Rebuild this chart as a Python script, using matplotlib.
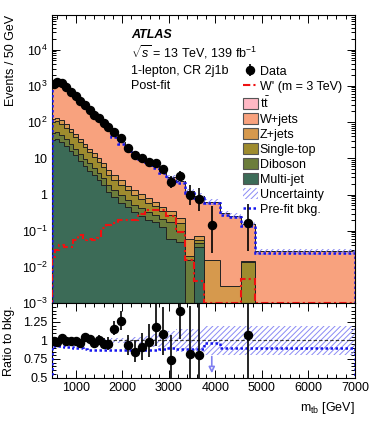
import numpy as np
import matplotlib
matplotlib.use("Agg")
import matplotlib.pyplot as plt
from matplotlib.patches import Patch
from matplotlib.lines import Line2D
from matplotlib.ticker import FixedLocator, MultipleLocator, LogLocator, NullFormatter, FuncFormatter

plt.rcParams['font.family'] = ['Liberation Sans', 'DejaVu Sans']
plt.rcParams['mathtext.fontset'] = 'custom'
plt.rcParams['mathtext.rm'] = 'Liberation Sans'
plt.rcParams['mathtext.it'] = 'Liberation Sans:italic'
plt.rcParams['mathtext.bf'] = 'Liberation Sans:bold'
plt.rcParams['hatch.linewidth'] = 0.7

# ---- binning (GeV) and per-bin contents (events / 50 GeV) ----
edges = np.array([500, 550, 650, 750, 850, 950, 1050, 1150, 1250, 1350, 1450, 1550,
                  1650, 1750, 1900, 2050, 2200, 2350, 2500, 2650, 2800, 2950, 3150,
                  3350, 3550, 3750, 4100, 4300, 4550, 4850, 7000])

data_counts = [1150, 2550, 2350, 1840, 1386, 1040, 740, 596, 438, 322, 258, 192, 147,
               160, 106, 56, 37, 30, 24, 22, 15, 9, 13, 4, 3, 1, 0, 0, 1, 0]

ttbar = [4, 4, 3.5, 3, 2, 1.5, 1, 0.8, 0.6, 0.4, 0.3, 0.25, 0.2, 0.12, 0.08, 0.05,
         0.04, 0.03, 0.02, 0.015, 0.01, 0.008, 0.005, 0.003, 0.002, 0.001, 0, 0, 0, 0]
wjets = [1029, 1170, 1019, 833, 635, 472, 350, 260, 196, 154, 118, 93, 72, 42.5, 25.5,
         18.2, 13.2, 10.0, 7.4, 5.6, 4.15, 2.7, 2.1, 1.16, 0.85, 0.60, 0.30, 0.26, 0.14, 0.027]
zjets = [23, 25, 22, 17, 13, 9.5, 7, 5, 3.7, 2.7, 2.0, 1.5, 1.3, 0.9, 0.65, 0.45, 0.33,
         0.25, 0.19, 0.14, 0.1, 0.08, 0.06, 0.04, 0.02, 0.016, 0.003, 0.003, 0.001, 0]
singletop = [48, 52, 45, 36, 27, 20, 14.5, 10.5, 7.7, 5.6, 4.0, 2.9, 1.65, 1.2, 0.85, 0.6,
             0.45, 0.35, 0.27, 0.2, 0.14, 0.1, 0.06, 0.004, 0.008, 0, 0, 0, 0.014, 0]
diboson = [17, 18, 15, 12, 9, 6.5, 4.8, 3.5, 2.6, 1.9, 1.4, 1.0, 0.66, 0.48, 0.36, 0.27,
           0.2, 0.16, 0.13, 0.1, 0.08, 0.12, 0.05, 0.016, 0.01, 0, 0, 0, 0, 0]
multijet = [33, 35, 29, 22, 16, 12, 8.5, 6.2, 4.6, 3.4, 2.5, 1.8, 1.2, 0.85, 0.6, 0.45,
            0.33, 0.26, 0.2, 0.17, 0.13, 0.06, 0.05, 0.0, 0.036, 0, 0, 0, 0, 0]

wprime = [0.019, 0.030, 0.041, 0.036, 0.036, 0.055, 0.077, 0.056, 0.058, 0.056, 0.062, 0.118,
          0.146, 0.16, 0.2, 0.2, 0.2, 0.3, 0.38, 0.38, 0.38, 0.25, 0.095, 0.016, 0.004,
          0, 0, 0, 0.0048, 0]

# pre-fit / post-fit background, and relative uncertainty of the post-fit background
prefit_ratio = [0.92, 0.92, 0.92, 0.91, 0.91, 0.90, 0.90, 0.88, 0.87, 0.87, 0.865, 0.865,
                0.865, 0.865, 0.865, 0.865, 0.865, 0.865, 0.865, 0.87, 0.88, 0.90, 0.89,
                0.89, 0.89, 0.965, 0.90, 0.90, 0.90, 0.90]
rel_unc = [0.02] * 13 + [0.03, 0.03, 0.035, 0.04, 0.05, 0.06, 0.09, 0.10, 0.12, 0.15,
                         0.16, 0.16, 0.19, 0.19, 0.19, 0.19, 0.19]

stack = [("Multi-jet", multijet, "#3c6b57"),
         ("Diboson", diboson, "#6c7d3b"),
         ("Single-top", singletop, "#9e8b2e"),
         ("Z+jets", zjets, "#d6994d"),
         ("W+jets", wjets, "#f8a27e"),
         (r"$\mathrm{t\bar{t}}$", ttbar, "#ffb8c4")]

# ===========================================

centers = 0.5 * (edges[:-1] + edges[1:])
units = np.diff(edges) / 50.0
counts = np.array(data_counts, dtype=float)
dens = counts / units

# Gehrels approximation for Poisson intervals
err_hi = np.sqrt(counts + 0.75) + 1.0
with np.errstate(divide='ignore', invalid='ignore'):
    low = counts * (1 - 1 / (9 * counts) - 1 / (3 * np.sqrt(counts))) ** 3
err_lo = np.where(counts > 0, counts - low, 0)
err_hi = err_hi / units
err_lo = err_lo / units

total = np.zeros(len(centers))
for _, vals, _ in stack:
    total = total + np.array(vals)
prefit = total * np.array(prefit_ratio)
unc = np.array(rel_unc)

floor = 1e-5

fig = plt.figure(figsize=(3.74, 4.21), dpi=100)
ax1 = fig.add_axes([0.140, 0.2796, 0.809, 0.6848])
ax2 = fig.add_axes([0.140, 0.1033, 0.809, 0.1763], sharex=ax1)

### Stack
base = np.zeros(len(centers))
handles = {}
for name, vals, col in stack:
    top = base + np.array(vals)
    ax1.stairs(np.maximum(top, floor), edges, baseline=np.maximum(base, floor), fill=True,
               facecolor=col, edgecolor='none', zorder=2)
    ax1.stairs(np.maximum(top, floor), edges, color='#222222', lw=0.7, zorder=3)
    handles[name] = Patch(facecolor=col, edgecolor='#555555', lw=0.8)
    base = top

# uncertainty band
band_lo = np.append(total * (1 - unc), total[-1] * (1 - unc[-1]))
band_hi = np.append(total * (1 + unc), total[-1] * (1 + unc[-1]))
ax1.fill_between(edges, band_lo, band_hi, step='post', facecolor='none',
                 edgecolor='#8a8af5', hatch='//////', lw=0, zorder=4)

# pre-fit and signal
ax1.stairs(prefit, edges, color='#1515ee', lw=1.8, ls=(0, (1, 1)), zorder=5)
ax1.stairs(np.maximum(wprime, 1.0e-3), edges, color='#ee1111', lw=1.5,
           ls=(0, (3.5, 1.5, 1, 1.5)), zorder=5)

# data
m = counts > 0
eb = ax1.errorbar(centers[m], dens[m], yerr=[err_lo[m], err_hi[m]], fmt='o', color='black',
                  ms=5.8, lw=1.2, capsize=0, zorder=6)

ax1.set_yscale('log')
ax1.set_ylim(1e-3, 9e4)
ax1.set_xlim(500, 7000)

ax1.set_ylabel("Events / 50 GeV", fontsize=9, loc='top')
ax1.yaxis.set_label_coords(-0.118, 1.0)

def logfmt(v, pos):
    e = int(round(np.log10(v)))
    if e == 0:
        return "1"
    if e == 1:
        return "10"
    return r"$10^{%d}$" % e

ax1.yaxis.set_major_locator(LogLocator(base=10, numticks=20))
ax1.yaxis.set_minor_locator(LogLocator(base=10, subs=np.arange(2, 10), numticks=20))
ax1.yaxis.set_major_formatter(FuncFormatter(logfmt))
ax1.yaxis.set_minor_formatter(NullFormatter())

# text
ax1.text(0.26, 0.931, "ATLAS", transform=ax1.transAxes, fontsize=9, fontweight='bold',
         style='italic', va='center')
ax1.text(0.26, 0.872, r"$\sqrt{s}$ = 13 TeV, 139 fb$^{-1}$", transform=ax1.transAxes,
         fontsize=9, va='center')
ax1.text(0.26, 0.807, "1-lepton, CR 2j1b", transform=ax1.transAxes, fontsize=9, va='center')
ax1.text(0.26, 0.754, "Post-fit", transform=ax1.transAxes, fontsize=9, va='center')

leg_h = [eb, Line2D([], [], color='#ee1111', lw=1.5, ls=(0, (3.5, 1.5, 1, 1.5))),
         handles[r"$\mathrm{t\bar{t}}$"], handles["W+jets"], handles["Z+jets"],
         handles["Single-top"], handles["Diboson"], handles["Multi-jet"],
         Patch(facecolor='none', edgecolor='#8a8af5', hatch='//////', lw=0),
         Line2D([], [], color='#1515ee', lw=1.8, ls=(0, (1, 1)))]
leg_l = ["Data", "W' (m = 3 TeV)", r"$\mathrm{t\bar{t}}$", "W+jets", "Z+jets", "Single-top",
         "Diboson", "Multi-jet", "Uncertainty", "Pre-fit bkg."]
ax1.legend(leg_h, leg_l, loc='upper left', bbox_to_anchor=(0.63, 0.826), frameon=False,
           fontsize=9, handlelength=1.2, handleheight=1.0, handletextpad=0.15,
           labelspacing=0.17, borderpad=0, borderaxespad=0)

### Ratio
ratio = np.where(total > 0, dens / np.maximum(total, floor), 0)
band_r_lo = np.append(1 - unc, 1 - unc[-1])
band_r_hi = np.append(1 + unc, 1 + unc[-1])
ax2.fill_between(edges, band_r_lo, band_r_hi, step='post', facecolor='none',
                 edgecolor='#8a8af5', hatch='//////', lw=0, zorder=2)
ax2.axhline(1.0, color='#333333', lw=0.8, ls=(0, (3, 2)), zorder=3)
ax2.stairs(np.array(prefit_ratio), edges, color='#1515ee', lw=1.8, ls=(0, (1, 1)), zorder=4)

inr = m & (ratio >= 0.5)
ax2.errorbar(centers[inr], ratio[inr], yerr=[err_lo[inr] / total[inr], err_hi[inr] / total[inr]],
             fmt='o', color='black', ms=5.8, lw=1.2, capsize=0, zorder=6)
low_pts = m & (ratio < 0.5)
for xc in centers[low_pts]:
    ax2.annotate("", xy=(xc, 0.52), xytext=(xc, 0.82),
                 arrowprops=dict(arrowstyle='-|>', color='#8080f0', lw=1.2, fc='white',
                                 mutation_scale=9))

ax2.set_ylim(0.5, 1.5)
ax2.set_xlim(500, 7000)
ax2.yaxis.set_major_locator(FixedLocator([0.5, 0.75, 1.0, 1.25]))
ax2.yaxis.set_minor_locator(MultipleLocator(0.05))
ax2.yaxis.set_major_formatter(FuncFormatter(lambda v, p: "%g" % v))
ax2.set_ylabel("Ratio to bkg.", fontsize=9)
ax2.yaxis.set_label_coords(-0.124, 0.5)
ax2.set_xlabel(r"m$_{\rm tb}$ [GeV]", fontsize=9, loc='right')

ax2.xaxis.set_major_locator(MultipleLocator(1000))
ax2.xaxis.set_minor_locator(MultipleLocator(200))
plt.setp(ax1.get_xticklabels(), visible=False)

for ax in (ax1, ax2):
    ax.tick_params(which='both', direction='in', top=True, right=True, labelsize=9,
                   width=0.7)
    ax.tick_params(which='major', length=5.5)
    ax.tick_params(which='minor', length=3)
    for s in ax.spines.values():
        s.set_linewidth(0.8)

plt.savefig("out.png", dpi=100)
